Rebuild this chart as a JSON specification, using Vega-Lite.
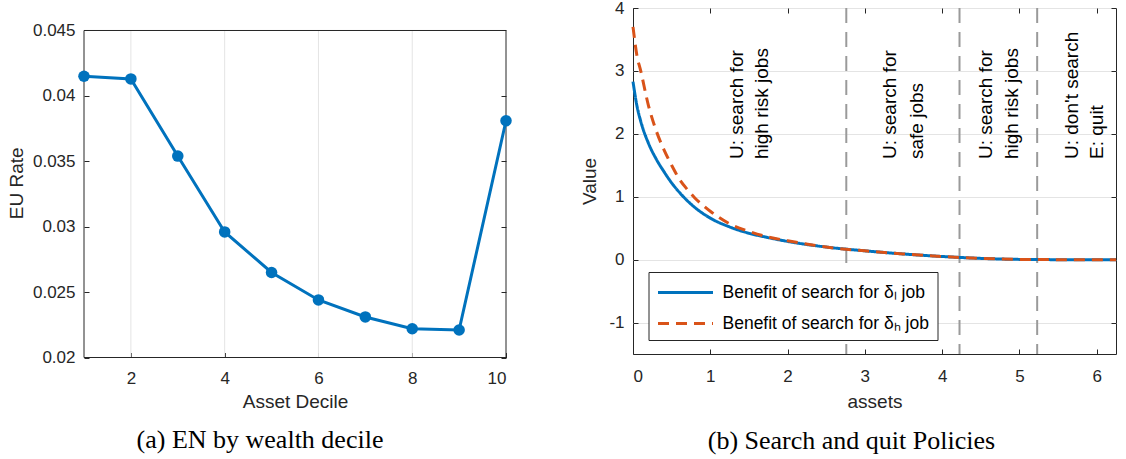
{
  "$schema": "https://vega.github.io/schema/vega-lite/v6.json",
  "padding": {"left": 7, "top": -2, "right": 5, "bottom": 0},
  "spacing": 68,
  "background": "white",
  "config": {
    "font": "Liberation Sans",
    "view": {"stroke": "#262626", "strokeWidth": 1},
    "axis": {
      "domain": false,
      "grid": true,
      "gridColor": "#e4e4e4",
      "gridWidth": 1,
      "tickColor": "#262626",
      "tickSize": -5,
      "labelFont": "Liberation Sans",
      "labelFontSize": 17,
      "labelColor": "#262626",
      "titleFont": "Liberation Sans",
      "titleFontSize": 19,
      "titleFontWeight": "normal",
      "titleColor": "#262626"
    },
    "title": {"font": "Liberation Serif", "fontSize": 26, "fontWeight": "normal", "color": "#000000", "orient": "bottom", "anchor": "middle", "frame": "bounds"}
  },
  "hconcat": [
    {
      "width": 422,
      "height": 349.5,
      "view": {"stroke": null},
      "title": {"text": "(a) EN by wealth decile", "offset": 16},
      "layer": [
        {
          "data": {"values": [{"g": 2}, {"g": 4}, {"g": 6}, {"g": 8}]},
          "mark": {"type": "rule", "color": "#e4e4e4", "strokeWidth": 1},
          "encoding": {
            "x": {"field": "g", "type": "quantitative", "scale": {"domain": [1, 10], "nice": false, "zero": false}, "axis": null},
            "y": {"datum": 0.02, "type": "quantitative", "axis": null},
            "y2": {"datum": 0.045}
          }
        },
        {
          "data": {"values": [{"decile": 1, "rate": 0.0415}]},
          "mark": {"type": "rect", "fill": "transparent", "stroke": "#262626", "strokeWidth": 1},
          "encoding": {
            "x": {"datum": 1, "type": "quantitative", "axis": null},
            "x2": {"datum": 10},
            "y": {"datum": 0.02, "type": "quantitative", "axis": null},
            "y2": {"datum": 0.045}
          }
        },
        {
          "data": {"values": [
            {"decile": 1, "rate": 0.0415},
            {"decile": 2, "rate": 0.0413},
            {"decile": 3, "rate": 0.0354},
            {"decile": 4, "rate": 0.0296},
            {"decile": 5, "rate": 0.0265},
            {"decile": 6, "rate": 0.0244},
            {"decile": 7, "rate": 0.0231},
            {"decile": 8, "rate": 0.0222},
            {"decile": 9, "rate": 0.0221},
            {"decile": 10, "rate": 0.0381}
          ]},
          "mark": {"type": "line", "color": "#0072BD", "strokeWidth": 3, "point": {"filled": true, "size": 133, "color": "#0072BD", "opacity": 1}},
          "encoding": {
            "x": {"field": "decile", "type": "quantitative", "scale": {"domain": [1, 10], "nice": false, "zero": false},
                  "axis": {"values": [2, 4, 6, 8, 10], "grid": false, "title": "Asset Decile", "labelPadding": 17.7, "titlePadding": 6}},
            "y": {"field": "rate", "type": "quantitative", "scale": {"domain": [0.02, 0.04672], "nice": false, "zero": false},
                  "axis": {"values": [0.02, 0.025, 0.03, 0.035, 0.04, 0.045], "format": ".3~f", "title": "EU Rate", "labelPadding": 14, "titlePadding": 5.5}}
          }
        },
        {
          "data": {"values": [{"decile": 1, "rate": 0.0415}]},
          "mark": {"type": "point", "opacity": 0},
          "encoding": {
            "x": {"field": "decile", "type": "quantitative", "axis": null},
            "y": {"field": "rate", "type": "quantitative", "axis": {"orient": "right", "values": [0.02, 0.025, 0.03, 0.035, 0.04, 0.045], "labels": false, "grid": false, "title": null, "minExtent": 0, "maxExtent": 0}}
          }
        }
      ],
      "resolve": {"axis": {"x": "independent", "y": "independent"}}
    },
    {
      "width": 483,
      "height": 346,
      "title": {"text": "(b) Search and quit Policies", "offset": 16},
      "layer": [
        {
          "data": {"values": [{"a": 2.76}, {"a": 4.225}, {"a": 5.23}]},
          "mark": {"type": "rule", "color": "#9a9a9a", "strokeWidth": 2, "strokeDash": [15, 9]},
          "encoding": {
            "x": {"field": "a", "type": "quantitative", "scale": {"domain": [0, 6.25], "nice": false, "zero": false}, "axis": null}
          }
        },
        {
          "data": {"values": [
            {"asset": 0, "value": 2.83, "series": "Benefit of search for δₗ job"},
            {"asset": 0.05, "value": 2.45, "series": "Benefit of search for δₗ job"},
            {"asset": 0.1, "value": 2.2, "series": "Benefit of search for δₗ job"},
            {"asset": 0.2, "value": 1.85, "series": "Benefit of search for δₗ job"},
            {"asset": 0.3, "value": 1.6, "series": "Benefit of search for δₗ job"},
            {"asset": 0.4, "value": 1.4, "series": "Benefit of search for δₗ job"},
            {"asset": 0.5, "value": 1.22, "series": "Benefit of search for δₗ job"},
            {"asset": 0.6, "value": 1.07, "series": "Benefit of search for δₗ job"},
            {"asset": 0.7, "value": 0.94, "series": "Benefit of search for δₗ job"},
            {"asset": 0.8, "value": 0.83, "series": "Benefit of search for δₗ job"},
            {"asset": 1.0, "value": 0.66, "series": "Benefit of search for δₗ job"},
            {"asset": 1.25, "value": 0.52, "series": "Benefit of search for δₗ job"},
            {"asset": 1.5, "value": 0.42, "series": "Benefit of search for δₗ job"},
            {"asset": 1.75, "value": 0.35, "series": "Benefit of search for δₗ job"},
            {"asset": 2.0, "value": 0.29, "series": "Benefit of search for δₗ job"},
            {"asset": 2.5, "value": 0.2, "series": "Benefit of search for δₗ job"},
            {"asset": 3.0, "value": 0.14, "series": "Benefit of search for δₗ job"},
            {"asset": 3.5, "value": 0.09, "series": "Benefit of search for δₗ job"},
            {"asset": 4.0, "value": 0.05, "series": "Benefit of search for δₗ job"},
            {"asset": 4.5, "value": 0.02, "series": "Benefit of search for δₗ job"},
            {"asset": 5.0, "value": 0.004, "series": "Benefit of search for δₗ job"},
            {"asset": 5.5, "value": 0, "series": "Benefit of search for δₗ job"},
            {"asset": 6.25, "value": 0, "series": "Benefit of search for δₗ job"},
            {"asset": 0, "value": 3.7, "series": "Benefit of search for δₕ job"},
            {"asset": 0.05, "value": 3.25, "series": "Benefit of search for δₕ job"},
            {"asset": 0.1, "value": 3.0, "series": "Benefit of search for δₕ job"},
            {"asset": 0.2, "value": 2.45, "series": "Benefit of search for δₕ job"},
            {"asset": 0.3, "value": 2.05, "series": "Benefit of search for δₕ job"},
            {"asset": 0.4, "value": 1.75, "series": "Benefit of search for δₕ job"},
            {"asset": 0.5, "value": 1.5, "series": "Benefit of search for δₕ job"},
            {"asset": 0.6, "value": 1.28, "series": "Benefit of search for δₕ job"},
            {"asset": 0.7, "value": 1.12, "series": "Benefit of search for δₕ job"},
            {"asset": 0.8, "value": 0.98, "series": "Benefit of search for δₕ job"},
            {"asset": 0.9, "value": 0.87, "series": "Benefit of search for δₕ job"},
            {"asset": 1.0, "value": 0.77, "series": "Benefit of search for δₕ job"},
            {"asset": 1.25, "value": 0.57, "series": "Benefit of search for δₕ job"},
            {"asset": 1.5, "value": 0.45, "series": "Benefit of search for δₕ job"},
            {"asset": 1.75, "value": 0.36, "series": "Benefit of search for δₕ job"},
            {"asset": 2.0, "value": 0.3, "series": "Benefit of search for δₕ job"},
            {"asset": 2.5, "value": 0.2, "series": "Benefit of search for δₕ job"},
            {"asset": 3.0, "value": 0.14, "series": "Benefit of search for δₕ job"},
            {"asset": 3.5, "value": 0.09, "series": "Benefit of search for δₕ job"},
            {"asset": 4.0, "value": 0.05, "series": "Benefit of search for δₕ job"},
            {"asset": 4.5, "value": 0.02, "series": "Benefit of search for δₕ job"},
            {"asset": 5.0, "value": 0.004, "series": "Benefit of search for δₕ job"},
            {"asset": 5.5, "value": 0, "series": "Benefit of search for δₕ job"},
            {"asset": 6.25, "value": 0, "series": "Benefit of search for δₕ job"}
          ]},
          "mark": {"type": "line", "strokeWidth": 3, "interpolate": "monotone"},
          "encoding": {
            "x": {"field": "asset", "type": "quantitative", "scale": {"domain": [0, 6.25], "nice": false, "zero": false},
                  "axis": {"values": [0, 1, 2, 3, 4, 5, 6], "title": "assets", "labelPadding": 19.7, "titlePadding": 8}},
            "y": {"field": "value", "type": "quantitative", "scale": {"domain": [-1.5, 4], "nice": false, "zero": false},
                  "axis": {"values": [-1, 0, 1, 2, 3, 4], "labelExpr": "'' + datum.value", "title": "Value", "labelPadding": 14, "titlePadding": 9}},
            "color": {"field": "series", "type": "nominal",
                      "scale": {"domain": ["Benefit of search for δₗ job", "Benefit of search for δₕ job"], "range": ["#0072BD", "#D95319"]},
                      "legend": {"orient": "none", "legendX": 564.5, "legendY": 264, "title": null, "symbolType": "M-1,0H4", "symbolSize": 484, "symbolStrokeWidth": 3, "labelOffset": 41, "labelFontSize": 17.5, "labelColor": "#000000", "labelLimit": 400, "padding": 8, "rowPadding": 10, "strokeColor": "#262626", "fillColor": "white", "cornerRadius": 0}},
            "strokeDash": {"field": "series", "type": "nominal",
                      "scale": {"domain": ["Benefit of search for δₗ job", "Benefit of search for δₕ job"], "range": [[1, 0], [11, 7]]},
                      "legend": {"orient": "none", "legendX": 564.5, "legendY": 264, "title": null, "symbolType": "M-1,0H4", "symbolSize": 484, "symbolStrokeWidth": 3, "labelOffset": 41, "labelFontSize": 17.5, "labelColor": "#000000", "labelLimit": 400, "padding": 8, "rowPadding": 10, "strokeColor": "#262626", "fillColor": "white", "cornerRadius": 0}}
          }
        },
        {
          "data": {"values": [
            {"a": 1.35, "v": 1.6, "t": "U: search for"},
            {"a": 1.67, "v": 1.6, "t": "high risk jobs"},
            {"a": 3.33, "v": 1.6, "t": "U: search for"},
            {"a": 3.68, "v": 1.6, "t": "safe jobs"},
            {"a": 4.57, "v": 1.6, "t": "U: search for"},
            {"a": 4.91, "v": 1.6, "t": "high risk jobs"},
            {"a": 5.68, "v": 1.6, "t": "U: don't search"},
            {"a": 6.0, "v": 1.6, "t": "E: quit"}
          ]},
          "mark": {"type": "text", "angle": 270, "align": "left", "baseline": "middle", "fontSize": 19, "color": "#000000", "font": "Liberation Sans"},
          "encoding": {
            "x": {"field": "a", "type": "quantitative", "axis": null},
            "y": {"field": "v", "type": "quantitative", "axis": null},
            "text": {"field": "t"}
          }
        },
        {
          "data": {"values": [{"a": 0, "v": 0}]},
          "mark": {"type": "point", "opacity": 0},
          "encoding": {
            "x": {"field": "a", "type": "quantitative", "axis": {"orient": "top", "values": [0, 1, 2, 3, 4, 5, 6], "labels": false, "grid": false, "title": null, "minExtent": 0, "maxExtent": 0}},
            "y": {"field": "v", "type": "quantitative", "axis": {"orient": "right", "values": [-1, 0, 1, 2, 3, 4], "labels": false, "grid": false, "title": null, "minExtent": 0, "maxExtent": 0}}
          }
        }
      ],
      "resolve": {"axis": {"x": "independent", "y": "independent"}}
    }
  ]
}
